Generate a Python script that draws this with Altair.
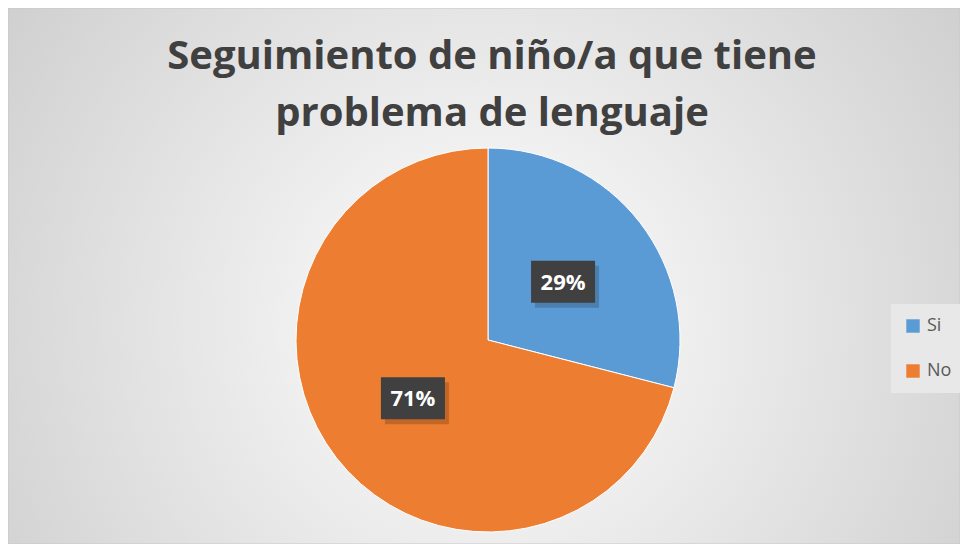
import altair as alt
import pandas as pd

# ---- data ----
categorias = ["Si", "No"]
porcentajes = [29, 71]
etiquetas = ["29%", "71%"]
orden = [0, 1]
colores = ["#5B9BD5", "#ED7D31"]
titulo_lineas = ["Seguimiento de niño/a que tiene", "problema de lenguaje"]

W, H = 952, 536
CX, CY, R = 480, 332, 192
R_LAB = 95
BW, BH = 32, 21

df = pd.DataFrame({"categoria": categorias, "porcentaje": porcentajes,
                   "etiqueta": etiquetas, "orden": orden})
uno = pd.DataFrame({"k": [0]})

fondo = alt.Chart(uno).mark_rect(
    fill=alt.Gradient(
        gradient="radial",
        stops=[alt.GradientStop(color="#ffffff", offset=0),
               alt.GradientStop(color="#c4c4c4", offset=1)],
        x1=0.5, y1=0.55, r1=0, x2=0.5, y2=0.55, r2=0.75,
    ),
    stroke="#c8c8c8", strokeWidth=1,
).encode(x=alt.value(0), x2=alt.value(W), y=alt.value(0), y2=alt.value(H))

base = alt.Chart(df).encode(
    theta=alt.Theta("porcentaje:Q", stack=True),
    order=alt.Order("orden:Q"),
)

pie = base.mark_arc(radius=R, stroke="white", strokeWidth=1).encode(
    x=alt.value(CX), y=alt.value(CY),
    color=alt.Color(
        "categoria:N",
        scale=alt.Scale(domain=categorias, range=colores),
        sort=categorias,
        legend=alt.Legend(
            title=None, orient="none", legendX=883, legendY=296,
            fillColor="#e8e8e8", padding=13, rowPadding=27,
            symbolType="square", symbolSize=180, symbolStrokeWidth=0,
            labelFont="Open Sans", labelFontSize=18, labelColor="#595959",
            labelOffset=5,
        ),
    ),
)

pos = alt.Chart(df).transform_window(
    cum="sum(porcentaje)", sort=[alt.SortField("orden")], frame=[None, 0]
).transform_joinaggregate(total="sum(porcentaje)").transform_calculate(
    mid="2*PI*(datum.cum - datum.porcentaje/2)/datum.total"
).transform_calculate(
    cx=f"{CX} + {R_LAB}*sin(datum.mid)",
    cy=f"{CY} - {R_LAB}*cos(datum.mid)",
).transform_calculate(
    bx1=f"datum.cx - {BW}", bx2=f"datum.cx + {BW}",
    by1=f"datum.cy - {BH}", by2=f"datum.cy + {BH}",
    sx1=f"datum.cx - {BW} + 4", sx2=f"datum.cx + {BW} + 4",
    sy1=f"datum.cy - {BH} + 5", sy2=f"datum.cy + {BH} + 5",
)

sombra = pos.mark_rect(fill="#000000", opacity=0.18).encode(
    x=alt.X("sx1:Q", scale=None, axis=None), x2="sx2:Q",
    y=alt.Y("sy1:Q", scale=None, axis=None), y2="sy2:Q",
)
caja = pos.mark_rect(fill="#404040").encode(
    x=alt.X("bx1:Q", scale=None, axis=None), x2="bx2:Q",
    y=alt.Y("by1:Q", scale=None, axis=None), y2="by2:Q",
)
texto = pos.mark_text(font="Open Sans", fontSize=22, fontWeight="bold",
                      color="white", align="center", baseline="middle",
                      dy=1).encode(
    x=alt.X("cx:Q", scale=None, axis=None),
    y=alt.Y("cy:Q", scale=None, axis=None),
    text="etiqueta:N",
)

titulo = alt.Chart(uno).mark_text(
    text=titulo_lineas, font="Open Sans", fontSize=40, fontWeight="bold",
    color="#404040", lineHeight=57, align="center", baseline="alphabetic",
).encode(x=alt.value(484), y=alt.value(61))

chart = alt.layer(fondo, pie, sombra, caja, texto, titulo).properties(
    width=W, height=H, padding=0,
    autosize=alt.AutoSizeParams(type="none"),
).configure_view(strokeWidth=0).configure(background="white")

chart.save("out.html", embed_options={"renderer": "svg", "actions": False})
